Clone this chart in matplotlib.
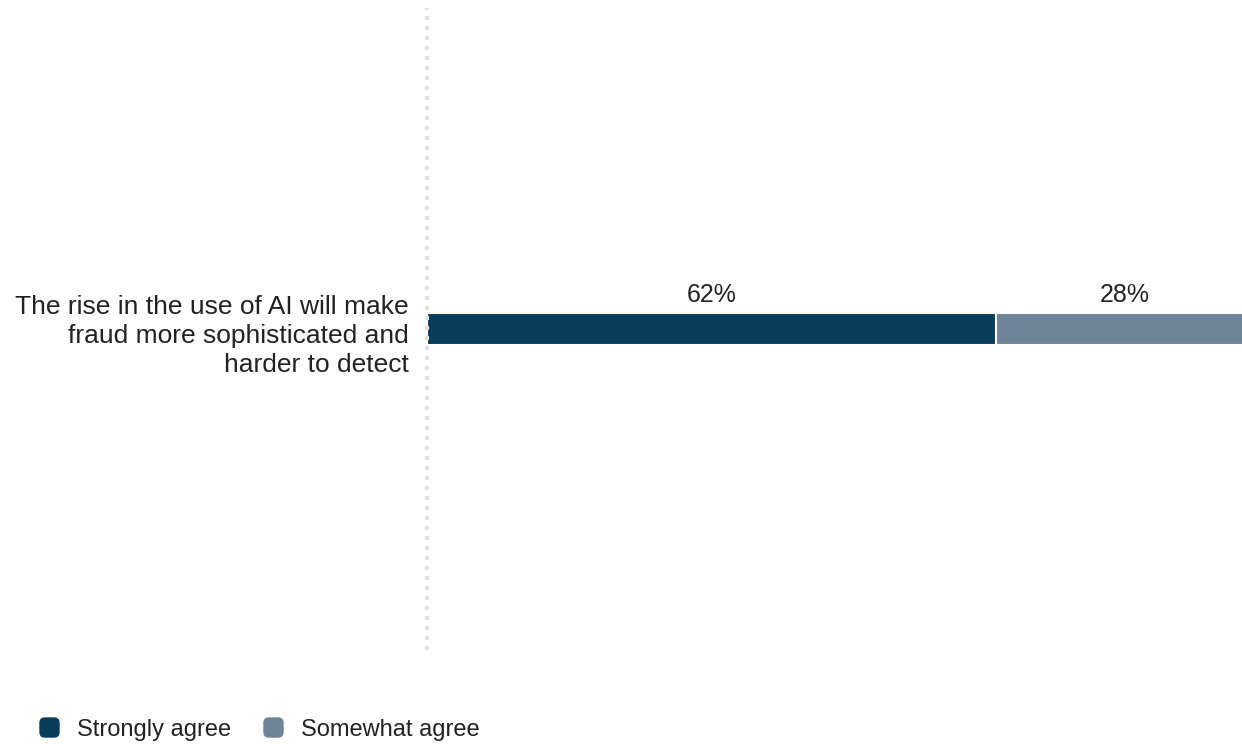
import matplotlib.pyplot as plt
from matplotlib.patches import FancyBboxPatch

plt.rcParams['font.family'] = ['Liberation Sans', 'DejaVu Sans']

category = 'The rise in the use of AI will make\nfraud more sophisticated and\nharder to detect'
series = ['Strongly agree', 'Somewhat agree']
values = [62, 28]
colors = ['#083c5c', '#6e8498']

W, H = 1242, 744
fig = plt.figure(figsize=(W / 100, H / 100), dpi=100)
# axes runs a bit past the right edge, the last segment gets clipped like in the original
ax = fig.add_axes([427 / W, 1 - 650 / H, (1253 - 427) / W, (650 - 8) / H])

left = 0
for name, v, c in zip(series, values, colors):
    ax.barh(0, v, left=left, height=0.05, color=c, edgecolor='white', linewidth=1.5)
    ax.text(left + v / 2, 0.042, f'{v}%', ha='center', va='baseline', fontsize=18, color='#222222')
    left += v

ax.set_xlim(0, sum(values))
ax.set_ylim(-0.5, 0.5)
ax.set_xticks([])
ax.set_yticks([])
for s in ['top', 'right', 'bottom']:
    ax.spines[s].set_visible(False)
ax.spines['left'].set_color('#e2e2e2')
ax.spines['left'].set_linewidth(3)
ax.spines['left'].set_linestyle((0, (1, 1.4)))
ax.spines['left'].set_capstyle('butt')

fig.text(409 / W, 1 - 336 / H, category, ha='right', va='center', fontsize=19,
         color='#222222', linespacing=1.27)

# legend
lx = [40, 264]
for x, name, c in zip(lx, series, colors):
    fig.patches.append(FancyBboxPatch((x / W, 1 - 737 / H), 19 / W, 19 / H,
                                      boxstyle='round,pad=0,rounding_size=0.004',
                                      transform=fig.transFigure, color=c, mutation_aspect=W / H))
    fig.text((x + 37) / W, 1 - 730 / H, name, ha='left', va='center', fontsize=17, color='#222222')

fig.savefig('out.png', dpi=100)
